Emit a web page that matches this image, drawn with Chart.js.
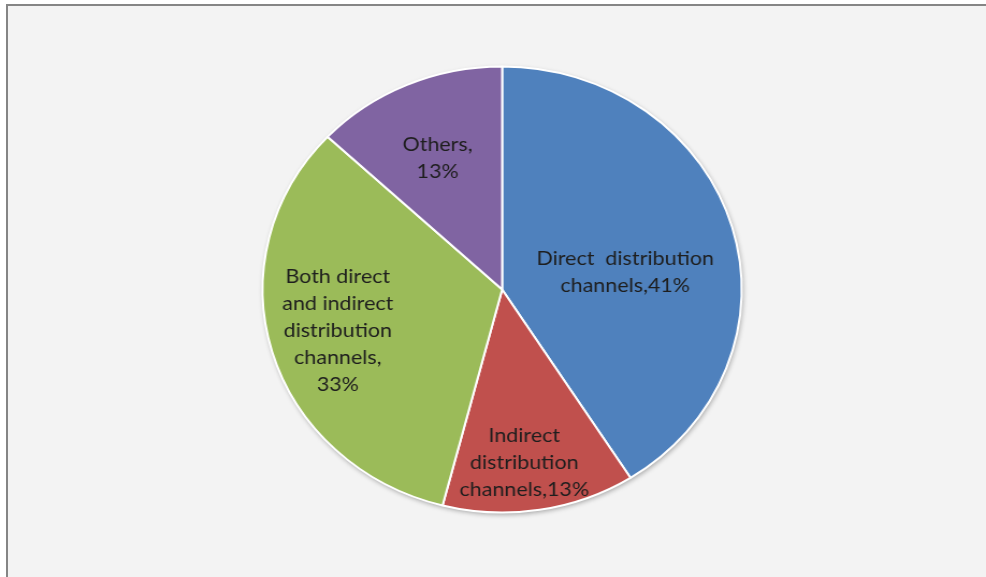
<!DOCTYPE html>
<html>
<head>
<meta charset="utf-8">
<title>Distribution channels</title>
<script src="https://cdn.jsdelivr.net/npm/chart.js@4.4.1/dist/chart.umd.min.js"></script>
<style>
    html, body {
        margin: 0;
        padding: 0;
        background: #ffffff;
        overflow: hidden;
    }
    #frame {
        position: absolute;
        left: 6px;
        top: 4px;
        width: 990px;
        height: 580px;
        background: #f3f3f3;
        border-left: 2px solid #858585;
        border-top: 2px solid #858585;
    }
    #wrap {
        position: absolute;
        left: 0;
        top: 0;
        width: 918px;
        height: 577px;
        transform-origin: 0 0;
        transform: scaleX(1.0741);
    }
</style>
</head>
<body>
<div id="frame"></div>
<div id="wrap"><canvas id="pieChart" width="918" height="577"></canvas></div>
<script>
// Share of companies by distribution channel
const channels = [
    "Direct distribution channels",
    "Indirect distribution channels",
    "Both direct and indirect distribution channels",
    "Others"
];
const shares = [41, 13, 33, 13];
const labelLines = [
    ["Direct  distribution", "channels,41%"],
    ["Indirect", "distribution", "channels,13%"],
    ["Both direct", "and indirect", "distribution", "channels,", "33%"],
    ["Others,", "13%"]
];
const sliceColors = ["#4f81bd", "#c0504d", "#9bbb59", "#8064a2"];

// where each label sits inside its slice: fraction of radius, angle nudge in degrees
const labelPlacement = [
    { r: 0.52, turn: 7.3 },
    { r: 0.78, turn: 2.2 },
    { r: 0.71, turn: 1.3 },
    { r: 0.65, turn: -1.1 }
];

// soft shadow under the whole pie
const pieShadow = {
    id: "pieShadow",
    beforeDatasetsDraw(chart) {
        const arc = chart.getDatasetMeta(0).data[0];
        if (!arc) return;
        const ctx = chart.ctx;
        ctx.save();
        ctx.shadowColor = "rgba(0,0,0,0.35)";
        ctx.shadowBlur = 5;
        ctx.shadowOffsetX = 1;
        ctx.shadowOffsetY = 2;
        ctx.fillStyle = "#dddddd";
        ctx.beginPath();
        ctx.arc(arc.x, arc.y, arc.outerRadius, 0, Math.PI * 2);
        ctx.fill();
        ctx.restore();
    }
};

// text drawn inside each slice
const sliceLabels = {
    id: "sliceLabels",
    afterDatasetsDraw(chart) {
        const ctx = chart.ctx;
        const arcs = chart.getDatasetMeta(0).data;
        ctx.save();
        ctx.font = "20px Lato";
        ctx.fillStyle = "#1e1e1e";
        ctx.textAlign = "center";
        ctx.textBaseline = "middle";
        const lineHeight = 27;
        arcs.forEach((arc, i) => {
            const place = labelPlacement[i];
            const mid = (arc.startAngle + arc.endAngle) / 2 + place.turn * Math.PI / 180;
            const cx = arc.x + Math.cos(mid) * arc.outerRadius * place.r;
            const cy = arc.y + Math.sin(mid) * arc.outerRadius * place.r;
            const lines = labelLines[i];
            const top = cy - (lines.length - 1) * lineHeight / 2;
            lines.forEach((line, j) => {
                ctx.fillText(line, cx, top + j * lineHeight);
            });
        });
        ctx.restore();
    }
};

const ctx = document.getElementById("pieChart").getContext("2d");
new Chart(ctx, {
    type: "pie",
    data: {
        labels: channels,
        datasets: [{
            data: shares,
            backgroundColor: sliceColors,
            borderColor: "#ffffff",
            borderWidth: 2,
            radius: 223
        }]
    },
    options: {
        responsive: false,
        animation: false,
        layout: {
            padding: { top: 66, bottom: 64, left: 17, right: 0 }
        },
        plugins: {
            legend: { display: false },
            tooltip: { enabled: false }
        }
    },
    plugins: [pieShadow, sliceLabels]
});
</script>
</body>
</html>
